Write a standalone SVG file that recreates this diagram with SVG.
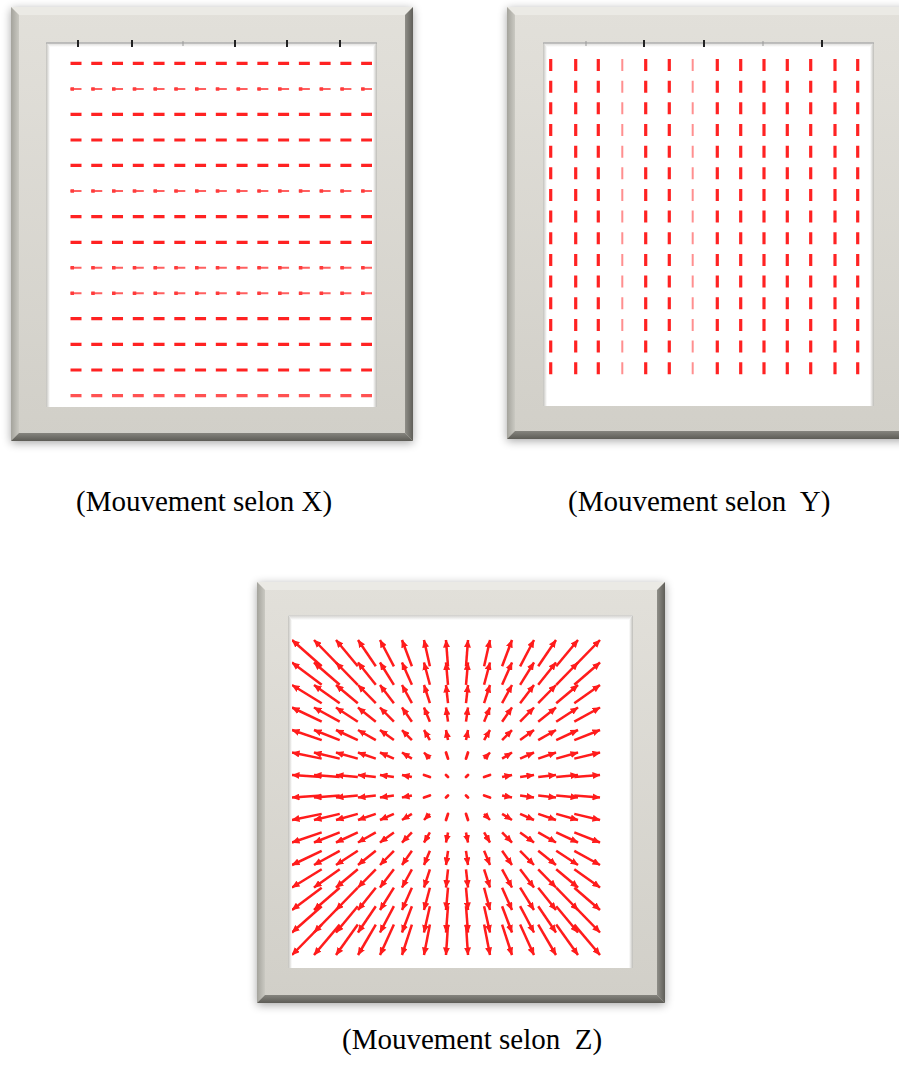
<svg xmlns="http://www.w3.org/2000/svg" width="899" height="1081" viewBox="0 0 899 1081">
<defs>
<style>
.lbl{font-family:"Liberation Serif","Times New Roman",serif;font-size:29px;fill:#000;white-space:pre}
.hb{fill:none;stroke:#ff2424;stroke-width:3.2}
.ht{fill:none;stroke:#ff6060;stroke-width:2}
.hh{fill:none;stroke:#ff3a3a;stroke-width:3.4}
.z line{stroke:#ff1a1a;stroke-width:2.5;marker-end:url(#ah)}
.z line.s{marker-end:none;stroke-linecap:round;stroke-width:2.8}
.tick{stroke:#222;stroke-width:2}
.tickl{stroke:#999;stroke-width:1}
.axis{stroke:#a0a0a0;stroke-width:1}
</style>
<filter id="sh" x="-10%" y="-10%" width="120%" height="120%"><feGaussianBlur stdDeviation="5"/></filter>
<filter id="soft"><feGaussianBlur stdDeviation="0.75"/></filter>
<linearGradient id="face" x1="0" y1="0" x2="0" y2="1"><stop offset="0" stop-color="#e2e0da"/><stop offset="1" stop-color="#d1cfc8"/></linearGradient>
<linearGradient id="bl" x1="0" y1="0" x2="1" y2="0"><stop offset="0" stop-color="#a4a39c"/><stop offset="1" stop-color="#cac9c2"/></linearGradient>
<linearGradient id="br" x1="0" y1="0" x2="1" y2="0"><stop offset="0" stop-color="#8f8e88"/><stop offset="1" stop-color="#5f5e58"/></linearGradient>
<linearGradient id="bb" x1="0" y1="0" x2="0" y2="1"><stop offset="0" stop-color="#85847e"/><stop offset="1" stop-color="#5d5c56"/></linearGradient>
<linearGradient id="it" x1="0" y1="0" x2="0" y2="1"><stop offset="0" stop-color="#cfcecb"/><stop offset="1" stop-color="#ffffff"/></linearGradient>
<linearGradient id="il" x1="0" y1="0" x2="1" y2="0"><stop offset="0" stop-color="#c2c1bc"/><stop offset="1" stop-color="#ffffff"/></linearGradient>
<linearGradient id="ir" x1="0" y1="0" x2="1" y2="0"><stop offset="0" stop-color="#ffffff"/><stop offset="1" stop-color="#bebdb8"/></linearGradient>
<marker id="ah" markerWidth="8" markerHeight="7" refX="7.5" refY="3.5" orient="auto" markerUnits="userSpaceOnUse"><path d="M0,0 L8,3.5 L0,7 z" fill="#ff1a1a"/></marker>
<clipPath id="c3"><rect x="289" y="616" width="343" height="351"/></clipPath>
</defs>
<rect width="899" height="1081" fill="#fff"/>

<g id="frameX">
<rect x="11" y="9" width="402" height="434" fill="#000" opacity="0.35" filter="url(#sh)"/>
<rect x="11" y="7" width="402" height="434" fill="url(#face)"/>
<polygon points="11,7 413,7 405,15 19,15" fill="#ebeae5"/>
<polygon points="11,7 19,15 19,433 11,441" fill="url(#bl)"/>
<polygon points="413,7 413,441 405,433 405,15" fill="url(#br)"/>
<polygon points="11,441 19,433 405,433 413,441" fill="url(#bb)"/>
<rect x="46" y="42" width="331" height="365" fill="#fff"/>
<g filter="url(#soft)">
<line class="hb" x1="70.5" y1="63.3" x2="372" y2="63.3" stroke-dasharray="11 9.76"/>
<line class="ht" x1="70.5" y1="89" x2="372" y2="89" stroke-dasharray="11 9.76"/>
<line class="hh" x1="70.5" y1="89" x2="372" y2="89" stroke-dasharray="3.5 17.26"/>
<line class="hb" x1="70.5" y1="114.3" x2="372" y2="114.3" stroke-dasharray="11 9.76"/>
<line class="hb" x1="70.5" y1="140" x2="372" y2="140" stroke-dasharray="11 9.76"/>
<line class="hb" x1="70.5" y1="165.3" x2="372" y2="165.3" stroke-dasharray="11 9.76"/>
<line class="ht" x1="70.5" y1="191" x2="372" y2="191" stroke-dasharray="11 9.76"/>
<line class="hh" x1="70.5" y1="191" x2="372" y2="191" stroke-dasharray="3.5 17.26"/>
<line class="hb" x1="70.5" y1="216.7" x2="372" y2="216.7" stroke-dasharray="11 9.76"/>
<line class="hb" x1="70.5" y1="242.3" x2="372" y2="242.3" stroke-dasharray="11 9.76"/>
<line class="ht" x1="70.5" y1="267.7" x2="372" y2="267.7" stroke-dasharray="11 9.76"/>
<line class="hh" x1="70.5" y1="267.7" x2="372" y2="267.7" stroke-dasharray="3.5 17.26"/>
<line class="ht" x1="70.5" y1="293.3" x2="372" y2="293.3" stroke-dasharray="11 9.76"/>
<line class="hh" x1="70.5" y1="293.3" x2="372" y2="293.3" stroke-dasharray="3.5 17.26"/>
<line class="hb" x1="70.5" y1="318.7" x2="372" y2="318.7" stroke-dasharray="11 9.76"/>
<line class="hb" x1="70.5" y1="344.3" x2="372" y2="344.3" stroke-dasharray="11 9.76"/>
<line class="hb" x1="70.5" y1="370" x2="372" y2="370" stroke-dasharray="11 9.76"/>
<line class="hb" x1="70.5" y1="395.7" x2="372" y2="395.7" stroke-dasharray="11 9.76" opacity="0.8"/>
</g>
<polygon points="46,42 377,42 373,47 50,47" fill="url(#it)"/>
<polygon points="46,42 50,47 50,407 46,407" fill="url(#il)"/>
<polygon points="377,42 377,407 373,407 373,47" fill="url(#ir)"/>
<line class="axis" x1="46" y1="43" x2="377" y2="43"/>
<line class="tick" x1="78" y1="40" x2="78" y2="47"/>
<line class="tick" x1="132" y1="40" x2="132" y2="47"/>
<line class="tickl" x1="183" y1="41" x2="183" y2="46"/>
<line class="tick" x1="235" y1="40" x2="235" y2="47"/>
<line class="tick" x1="287" y1="40" x2="287" y2="47"/>
<line class="tick" x1="340" y1="40" x2="340" y2="47"/>
</g>

<g id="frameY">
<rect x="507" y="9" width="401" height="432" fill="#000" opacity="0.35" filter="url(#sh)"/>
<rect x="507" y="7" width="401" height="432" fill="url(#face)"/>
<polygon points="507,7 908,7 900,15 515,15" fill="#ebeae5"/>
<polygon points="507,7 515,15 515,431 507,439" fill="url(#bl)"/>
<polygon points="908,7 908,439 900,431 900,15" fill="url(#br)"/>
<polygon points="507,439 515,431 900,431 908,439" fill="url(#bb)"/>
<rect x="543" y="42" width="331" height="364" fill="#fff"/>
<g filter="url(#soft)" stroke-dasharray="12 9.66">
<line class="hb" x1="550.7" y1="59" x2="550.7" y2="374.3"/>
<line class="hb" x1="575.7" y1="59" x2="575.7" y2="374.3"/>
<line class="hb" x1="598.3" y1="59" x2="598.3" y2="374.3"/>
<line class="ht" x1="622.3" y1="59" x2="622.3" y2="374.3" opacity="0.7"/>
<line class="hb" x1="645.7" y1="59" x2="645.7" y2="374.3"/>
<line class="hb" x1="669.3" y1="59" x2="669.3" y2="374.3"/>
<line class="ht" x1="692.7" y1="59" x2="692.7" y2="374.3" opacity="0.7"/>
<line class="hb" x1="717.3" y1="59" x2="717.3" y2="374.3"/>
<line class="hb" x1="740.7" y1="59" x2="740.7" y2="374.3"/>
<line class="hb" x1="764" y1="59" x2="764" y2="374.3"/>
<line class="hb" x1="787.3" y1="59" x2="787.3" y2="374.3"/>
<line class="hb" x1="810.7" y1="59" x2="810.7" y2="374.3"/>
<line class="hb" x1="835" y1="59" x2="835" y2="374.3"/>
<line class="hb" x1="857.7" y1="59" x2="857.7" y2="374.3"/>
</g>
<polygon points="543,42 874,42 870,47 547,47" fill="url(#it)"/>
<polygon points="543,42 547,47 547,406 543,406" fill="url(#il)"/>
<polygon points="874,42 874,406 870,406 870,47" fill="url(#ir)"/>
<line class="axis" x1="543" y1="43" x2="874" y2="43"/>
<line class="tickl" x1="586" y1="41" x2="586" y2="46"/>
<line class="tick" x1="644" y1="40" x2="644" y2="47"/>
<line class="tick" x1="704" y1="40" x2="704" y2="47"/>
<line class="tickl" x1="763" y1="41" x2="763" y2="46"/>
<line class="tick" x1="822" y1="40" x2="822" y2="47"/>
</g>

<g id="frameZ">
<rect x="257" y="584" width="408" height="421" fill="#000" opacity="0.35" filter="url(#sh)"/>
<rect x="257" y="582" width="408" height="421" fill="url(#face)"/>
<polygon points="257,582 665,582 657,590 265,590" fill="#ebeae5"/>
<polygon points="257,582 265,590 265,995 257,1003" fill="url(#bl)"/>
<polygon points="665,582 665,1003 657,995 657,590" fill="url(#br)"/>
<polygon points="257,1003 265,995 657,995 665,1003" fill="url(#bb)"/>
<rect x="288" y="615" width="345" height="353" fill="#fff"/>
<g class="z" clip-path="url(#c3)" filter="url(#soft)">
<line x1="321.7" y1="666.3" x2="292" y2="640"/><line x1="339.7" y1="666.3" x2="314" y2="640"/><line x1="357.8" y1="666.3" x2="336" y2="640"/><line x1="375.8" y1="666.3" x2="358" y2="640"/><line x1="393.9" y1="666.3" x2="380" y2="640"/><line x1="411.9" y1="666.3" x2="402" y2="640"/><line x1="429.9" y1="666.3" x2="424" y2="640"/><line x1="448" y1="666.3" x2="446" y2="640"/><line x1="466" y1="666.3" x2="468" y2="640"/><line x1="484.1" y1="666.3" x2="490" y2="640"/><line x1="502.1" y1="666.3" x2="512" y2="640"/><line x1="520.1" y1="666.3" x2="534" y2="640"/><line x1="538.2" y1="666.3" x2="556" y2="640"/><line x1="556.2" y1="666.3" x2="578" y2="640"/><line x1="574.3" y1="666.3" x2="600" y2="640"/>
<line x1="321.7" y1="684.8" x2="292" y2="662.5"/><line x1="339.7" y1="684.8" x2="314" y2="662.5"/><line x1="357.8" y1="684.8" x2="336" y2="662.5"/><line x1="375.8" y1="684.8" x2="358" y2="662.5"/><line x1="393.9" y1="684.8" x2="380" y2="662.5"/><line x1="411.9" y1="684.8" x2="402" y2="662.5"/><line x1="429.9" y1="684.8" x2="424" y2="662.5"/><line x1="448" y1="684.8" x2="446" y2="662.5"/><line x1="466" y1="684.8" x2="468" y2="662.5"/><line x1="484.1" y1="684.8" x2="490" y2="662.5"/><line x1="502.1" y1="684.8" x2="512" y2="662.5"/><line x1="520.1" y1="684.8" x2="534" y2="662.5"/><line x1="538.2" y1="684.8" x2="556" y2="662.5"/><line x1="556.2" y1="684.8" x2="578" y2="662.5"/><line x1="574.3" y1="684.8" x2="600" y2="662.5"/>
<line x1="321.7" y1="703.2" x2="292" y2="685"/><line x1="339.7" y1="703.2" x2="314" y2="685"/><line x1="357.8" y1="703.2" x2="336" y2="685"/><line x1="375.8" y1="703.2" x2="358" y2="685"/><line x1="393.9" y1="703.2" x2="380" y2="685"/><line x1="411.9" y1="703.2" x2="402" y2="685"/><line x1="429.9" y1="703.2" x2="424" y2="685"/><line x1="448" y1="703.2" x2="446" y2="685"/><line x1="466" y1="703.2" x2="468" y2="685"/><line x1="484.1" y1="703.2" x2="490" y2="685"/><line x1="502.1" y1="703.2" x2="512" y2="685"/><line x1="520.1" y1="703.2" x2="534" y2="685"/><line x1="538.2" y1="703.2" x2="556" y2="685"/><line x1="556.2" y1="703.2" x2="578" y2="685"/><line x1="574.3" y1="703.2" x2="600" y2="685"/>
<line x1="321.7" y1="721.7" x2="292" y2="707.5"/><line x1="339.7" y1="721.7" x2="314" y2="707.5"/><line x1="357.8" y1="721.7" x2="336" y2="707.5"/><line x1="375.8" y1="721.7" x2="358" y2="707.5"/><line x1="393.9" y1="721.7" x2="380" y2="707.5"/><line x1="411.9" y1="721.7" x2="402" y2="707.5"/><line x1="429.9" y1="721.7" x2="424" y2="707.5"/><line x1="448" y1="721.7" x2="446" y2="707.5"/><line x1="466" y1="721.7" x2="468" y2="707.5"/><line x1="484.1" y1="721.7" x2="490" y2="707.5"/><line x1="502.1" y1="721.7" x2="512" y2="707.5"/><line x1="520.1" y1="721.7" x2="534" y2="707.5"/><line x1="538.2" y1="721.7" x2="556" y2="707.5"/><line x1="556.2" y1="721.7" x2="578" y2="707.5"/><line x1="574.3" y1="721.7" x2="600" y2="707.5"/>
<line x1="321.7" y1="740.1" x2="292" y2="730"/><line x1="339.7" y1="740.1" x2="314" y2="730"/><line x1="357.8" y1="740.1" x2="336" y2="730"/><line x1="375.8" y1="740.1" x2="358" y2="730"/><line x1="393.9" y1="740.1" x2="380" y2="730"/><line x1="411.9" y1="740.1" x2="402" y2="730"/><line x1="429.9" y1="740.1" x2="424" y2="730"/><line x1="448" y1="740.1" x2="446" y2="730"/><line x1="466" y1="740.1" x2="468" y2="730"/><line x1="484.1" y1="740.1" x2="490" y2="730"/><line x1="502.1" y1="740.1" x2="512" y2="730"/><line x1="520.1" y1="740.1" x2="534" y2="730"/><line x1="538.2" y1="740.1" x2="556" y2="730"/><line x1="556.2" y1="740.1" x2="578" y2="730"/><line x1="574.3" y1="740.1" x2="600" y2="730"/>
<line x1="321.7" y1="758.6" x2="292" y2="752.5"/><line x1="339.7" y1="758.6" x2="314" y2="752.5"/><line x1="357.8" y1="758.6" x2="336" y2="752.5"/><line x1="375.8" y1="758.6" x2="358" y2="752.5"/><line x1="393.9" y1="758.6" x2="380" y2="752.5"/><line x1="411.9" y1="758.6" x2="402" y2="752.5"/><line x1="429.9" y1="758.6" x2="424" y2="752.5"/><line class="s" x1="448" y1="758.6" x2="446" y2="752.5"/><line class="s" x1="466" y1="758.6" x2="468" y2="752.5"/><line x1="484.1" y1="758.6" x2="490" y2="752.5"/><line x1="502.1" y1="758.6" x2="512" y2="752.5"/><line x1="520.1" y1="758.6" x2="534" y2="752.5"/><line x1="538.2" y1="758.6" x2="556" y2="752.5"/><line x1="556.2" y1="758.6" x2="578" y2="752.5"/><line x1="574.3" y1="758.6" x2="600" y2="752.5"/>
<line x1="321.7" y1="777" x2="292" y2="775"/><line x1="339.7" y1="777" x2="314" y2="775"/><line x1="357.8" y1="777" x2="336" y2="775"/><line x1="375.8" y1="777" x2="358" y2="775"/><line x1="393.9" y1="777" x2="380" y2="775"/><line x1="411.9" y1="777" x2="402" y2="775"/><line class="s" x1="429.9" y1="777" x2="424" y2="775"/><line class="s" x1="448" y1="777" x2="446" y2="775"/><line class="s" x1="466" y1="777" x2="468" y2="775"/><line class="s" x1="484.1" y1="777" x2="490" y2="775"/><line x1="502.1" y1="777" x2="512" y2="775"/><line x1="520.1" y1="777" x2="534" y2="775"/><line x1="538.2" y1="777" x2="556" y2="775"/><line x1="556.2" y1="777" x2="578" y2="775"/><line x1="574.3" y1="777" x2="600" y2="775"/>
<line x1="321.7" y1="795.5" x2="292" y2="797.5"/><line x1="339.7" y1="795.5" x2="314" y2="797.5"/><line x1="357.8" y1="795.5" x2="336" y2="797.5"/><line x1="375.8" y1="795.5" x2="358" y2="797.5"/><line x1="393.9" y1="795.5" x2="380" y2="797.5"/><line x1="411.9" y1="795.5" x2="402" y2="797.5"/><line class="s" x1="429.9" y1="795.5" x2="424" y2="797.5"/><line class="s" x1="448" y1="795.5" x2="446" y2="797.5"/><line class="s" x1="466" y1="795.5" x2="468" y2="797.5"/><line class="s" x1="484.1" y1="795.5" x2="490" y2="797.5"/><line x1="502.1" y1="795.5" x2="512" y2="797.5"/><line x1="520.1" y1="795.5" x2="534" y2="797.5"/><line x1="538.2" y1="795.5" x2="556" y2="797.5"/><line x1="556.2" y1="795.5" x2="578" y2="797.5"/><line x1="574.3" y1="795.5" x2="600" y2="797.5"/>
<line x1="321.7" y1="813.9" x2="292" y2="820"/><line x1="339.7" y1="813.9" x2="314" y2="820"/><line x1="357.8" y1="813.9" x2="336" y2="820"/><line x1="375.8" y1="813.9" x2="358" y2="820"/><line x1="393.9" y1="813.9" x2="380" y2="820"/><line x1="411.9" y1="813.9" x2="402" y2="820"/><line x1="429.9" y1="813.9" x2="424" y2="820"/><line class="s" x1="448" y1="813.9" x2="446" y2="820"/><line class="s" x1="466" y1="813.9" x2="468" y2="820"/><line x1="484.1" y1="813.9" x2="490" y2="820"/><line x1="502.1" y1="813.9" x2="512" y2="820"/><line x1="520.1" y1="813.9" x2="534" y2="820"/><line x1="538.2" y1="813.9" x2="556" y2="820"/><line x1="556.2" y1="813.9" x2="578" y2="820"/><line x1="574.3" y1="813.9" x2="600" y2="820"/>
<line x1="321.7" y1="832.4" x2="292" y2="842.5"/><line x1="339.7" y1="832.4" x2="314" y2="842.5"/><line x1="357.8" y1="832.4" x2="336" y2="842.5"/><line x1="375.8" y1="832.4" x2="358" y2="842.5"/><line x1="393.9" y1="832.4" x2="380" y2="842.5"/><line x1="411.9" y1="832.4" x2="402" y2="842.5"/><line x1="429.9" y1="832.4" x2="424" y2="842.5"/><line x1="448" y1="832.4" x2="446" y2="842.5"/><line x1="466" y1="832.4" x2="468" y2="842.5"/><line x1="484.1" y1="832.4" x2="490" y2="842.5"/><line x1="502.1" y1="832.4" x2="512" y2="842.5"/><line x1="520.1" y1="832.4" x2="534" y2="842.5"/><line x1="538.2" y1="832.4" x2="556" y2="842.5"/><line x1="556.2" y1="832.4" x2="578" y2="842.5"/><line x1="574.3" y1="832.4" x2="600" y2="842.5"/>
<line x1="321.7" y1="850.8" x2="292" y2="865"/><line x1="339.7" y1="850.8" x2="314" y2="865"/><line x1="357.8" y1="850.8" x2="336" y2="865"/><line x1="375.8" y1="850.8" x2="358" y2="865"/><line x1="393.9" y1="850.8" x2="380" y2="865"/><line x1="411.9" y1="850.8" x2="402" y2="865"/><line x1="429.9" y1="850.8" x2="424" y2="865"/><line x1="448" y1="850.8" x2="446" y2="865"/><line x1="466" y1="850.8" x2="468" y2="865"/><line x1="484.1" y1="850.8" x2="490" y2="865"/><line x1="502.1" y1="850.8" x2="512" y2="865"/><line x1="520.1" y1="850.8" x2="534" y2="865"/><line x1="538.2" y1="850.8" x2="556" y2="865"/><line x1="556.2" y1="850.8" x2="578" y2="865"/><line x1="574.3" y1="850.8" x2="600" y2="865"/>
<line x1="321.7" y1="869.3" x2="292" y2="887.5"/><line x1="339.7" y1="869.3" x2="314" y2="887.5"/><line x1="357.8" y1="869.3" x2="336" y2="887.5"/><line x1="375.8" y1="869.3" x2="358" y2="887.5"/><line x1="393.9" y1="869.3" x2="380" y2="887.5"/><line x1="411.9" y1="869.3" x2="402" y2="887.5"/><line x1="429.9" y1="869.3" x2="424" y2="887.5"/><line x1="448" y1="869.3" x2="446" y2="887.5"/><line x1="466" y1="869.3" x2="468" y2="887.5"/><line x1="484.1" y1="869.3" x2="490" y2="887.5"/><line x1="502.1" y1="869.3" x2="512" y2="887.5"/><line x1="520.1" y1="869.3" x2="534" y2="887.5"/><line x1="538.2" y1="869.3" x2="556" y2="887.5"/><line x1="556.2" y1="869.3" x2="578" y2="887.5"/><line x1="574.3" y1="869.3" x2="600" y2="887.5"/>
<line x1="321.7" y1="887.7" x2="292" y2="910"/><line x1="339.7" y1="887.7" x2="314" y2="910"/><line x1="357.8" y1="887.7" x2="336" y2="910"/><line x1="375.8" y1="887.7" x2="358" y2="910"/><line x1="393.9" y1="887.7" x2="380" y2="910"/><line x1="411.9" y1="887.7" x2="402" y2="910"/><line x1="429.9" y1="887.7" x2="424" y2="910"/><line x1="448" y1="887.7" x2="446" y2="910"/><line x1="466" y1="887.7" x2="468" y2="910"/><line x1="484.1" y1="887.7" x2="490" y2="910"/><line x1="502.1" y1="887.7" x2="512" y2="910"/><line x1="520.1" y1="887.7" x2="534" y2="910"/><line x1="538.2" y1="887.7" x2="556" y2="910"/><line x1="556.2" y1="887.7" x2="578" y2="910"/><line x1="574.3" y1="887.7" x2="600" y2="910"/>
<line x1="321.7" y1="906.2" x2="292" y2="932.5"/><line x1="339.7" y1="906.2" x2="314" y2="932.5"/><line x1="357.8" y1="906.2" x2="336" y2="932.5"/><line x1="375.8" y1="906.2" x2="358" y2="932.5"/><line x1="393.9" y1="906.2" x2="380" y2="932.5"/><line x1="411.9" y1="906.2" x2="402" y2="932.5"/><line x1="429.9" y1="906.2" x2="424" y2="932.5"/><line x1="448" y1="906.2" x2="446" y2="932.5"/><line x1="466" y1="906.2" x2="468" y2="932.5"/><line x1="484.1" y1="906.2" x2="490" y2="932.5"/><line x1="502.1" y1="906.2" x2="512" y2="932.5"/><line x1="520.1" y1="906.2" x2="534" y2="932.5"/><line x1="538.2" y1="906.2" x2="556" y2="932.5"/><line x1="556.2" y1="906.2" x2="578" y2="932.5"/><line x1="574.3" y1="906.2" x2="600" y2="932.5"/>
<line x1="321.7" y1="924.6" x2="292" y2="955"/><line x1="339.7" y1="924.6" x2="314" y2="955"/><line x1="357.8" y1="924.6" x2="336" y2="955"/><line x1="375.8" y1="924.6" x2="358" y2="955"/><line x1="393.9" y1="924.6" x2="380" y2="955"/><line x1="411.9" y1="924.6" x2="402" y2="955"/><line x1="429.9" y1="924.6" x2="424" y2="955"/><line x1="448" y1="924.6" x2="446" y2="955"/><line x1="466" y1="924.6" x2="468" y2="955"/><line x1="484.1" y1="924.6" x2="490" y2="955"/><line x1="502.1" y1="924.6" x2="512" y2="955"/><line x1="520.1" y1="924.6" x2="534" y2="955"/><line x1="538.2" y1="924.6" x2="556" y2="955"/><line x1="556.2" y1="924.6" x2="578" y2="955"/><line x1="574.3" y1="924.6" x2="600" y2="955"/>
</g>
<polygon points="288,615 633,615 629,620 292,620" fill="url(#it)"/>
<polygon points="288,615 292,620 292,968 288,968" fill="url(#il)"/>
<polygon points="633,615 633,968 629,968 629,620" fill="url(#ir)"/>
</g>

<g id="labels">
<text class="lbl" x="76" y="511" xml:space="preserve">(Mouvement selon X)</text>
<text class="lbl" x="568" y="511" xml:space="preserve">(Mouvement selon  Y)</text>
<text class="lbl" x="342" y="1049" xml:space="preserve">(Mouvement selon  Z)</text>
</g>
</svg>
